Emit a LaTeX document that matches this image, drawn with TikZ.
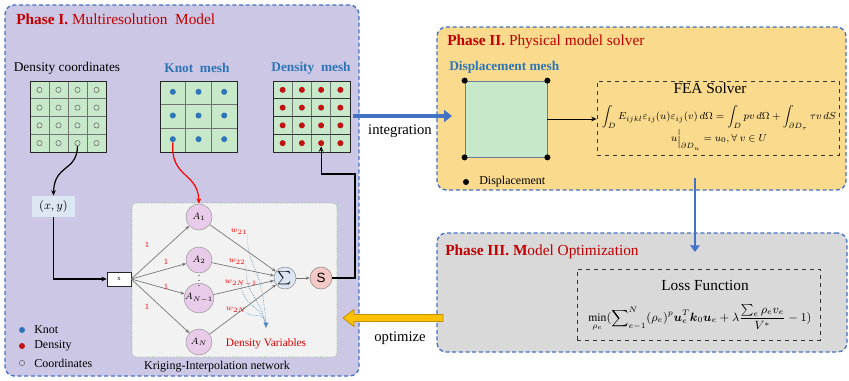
\documentclass[tikz,border=0pt]{standalone}
\usepackage{amsmath, amssymb}
\usepackage{fontspec}
\setmainfont{Liberation Serif}
\setsansfont{Liberation Sans}
\usetikzlibrary{calc,arrows.meta,positioning,fit}

\definecolor{phaseone}{RGB}{203,199,229}
\definecolor{phasetwo}{RGB}{250,219,142}
\definecolor{phasethree}{RGB}{217,217,217}
\definecolor{frameblue}{RGB}{68,114,196}
\definecolor{titlered}{RGB}{192,0,0}
\definecolor{meshgreen}{RGB}{200,232,202}
\definecolor{knotblue}{RGB}{46,117,182}
\definecolor{densred}{RGB}{192,20,20}
\definecolor{netgray}{RGB}{242,242,242}
\definecolor{neuronpink}{RGB}{232,203,232}
\definecolor{sumblue}{RGB}{220,229,245}
\definecolor{outpink}{RGB}{244,200,196}
\definecolor{xyblue}{RGB}{221,231,243}
\definecolor{optgold}{RGB}{255,192,0}
\definecolor{optedge}{RGB}{191,144,0}

\tikzset{
  phasebox/.style={draw=frameblue, line width=1pt, dash pattern=on 3pt off 2pt, rounded corners=7pt, inner sep=0pt},
  phasetitle/.style={anchor=west, text=titlered, font=\fontsize{11.5}{13}\selectfont, inner sep=0pt},
  meshlabel/.style={font=\fontsize{10}{12}\selectfont, inner sep=0pt},
  meshline/.style={draw=black!55, line width=0.4pt},
  meshborder/.style={draw=black!85, line width=0.7pt},
  coorddot/.style={circle, draw=black!60, line width=0.4pt, inner sep=0pt, minimum size=4pt},
  knotdot/.style={circle, fill=knotblue, inner sep=0pt, minimum size=4.5pt},
  densdot/.style={circle, fill=densred, inner sep=0pt, minimum size=4.5pt},
  dispdot/.style={circle, fill=black, inner sep=0pt, minimum size=4.5pt},
  neuron/.style={circle, draw=black!40, fill=neuronpink, minimum size=19.5pt, inner sep=0pt, font=\scriptsize},
  netedge/.style={draw=black!55, line width=0.5pt, -{Stealth[length=3pt,width=2.5pt]}},
  weightlabel/.style={text=red, font=\fontsize{6}{7}\selectfont, inner sep=0pt},
  dvlink/.style={draw=knotblue!85, densely dotted, line width=0.5pt},
  flowarrow/.style={draw=frameblue, line width=3pt, -{Triangle[length=6pt,width=9pt]}},
  flowlabel/.style={font=\fontsize{11}{13}\selectfont, inner sep=0pt},
  dashbox/.style={draw=black!80, dashed, line width=0.6pt, inner sep=0pt},
  legendtext/.style={anchor=west, font=\fontsize{9}{11}\selectfont, inner sep=0pt},
}

\begin{document}
\begin{tikzpicture}[x=0.75pt, y=-0.75pt]
\useasboundingbox (0,0) rectangle (849,380);

% phase frames
\node[phasebox, fill=phaseone, fit={(5,5) (359,376)}] (phaseI) {};
\node[phasebox, fill=phasetwo, fit={(437,27) (846,190)}] (phaseII) {};
\node[phasebox, fill=phasethree, fit={(437,233) (847,352)}] (phaseIII) {};

\node[phasetitle] (titleI) at (16,19) {\textbf{Phase I.} Multiresolution\ \ Model};
\node[phasetitle] (titleII) at (447,42) {\textbf{Phase II.} Physical\ model\ solver};
\node[phasetitle] (titleIII) at (445,252) {\textbf{Phase III. M}odel Optimization};

% ---- Phase I: meshes
\node[meshlabel] (coordlabel) at (67,68) {Density\ coordinates};
\node[meshlabel, text=knotblue, font=\fontsize{10}{12}\selectfont\bfseries] (knotlabel) at (197,68) {Knot\ \ mesh};
\node[meshlabel, text=knotblue, font=\fontsize{10}{12}\selectfont\bfseries] (denslabel) at (311,68) {Density\ \ mesh};

\fill[meshgreen] (30,81) rectangle (106,152);
\foreach \i in {1,2,3} {
  \draw[meshline] ({30+19*\i},81) -- ({30+19*\i},152);
  \draw[meshline] (30,{81+17.75*\i}) -- (106,{81+17.75*\i});
}
\draw[meshborder] (30,81) rectangle (106,152);
\foreach \i in {1,...,4}
  \foreach \j in {1,...,4}
    \node[coorddot] (c-\i-\j) at ({30+19*(\i-0.5)},{81+17.75*(\j-0.5)}) {};

\fill[meshgreen] (160,81) rectangle (237,152);
\foreach \i in {1,2} {
  \draw[meshline] ({160+25.67*\i},81) -- ({160+25.67*\i},152);
  \draw[meshline] (160,{81+23.67*\i}) -- (237,{81+23.67*\i});
}
\draw[meshborder] (160,81) rectangle (237,152);
\foreach \i in {1,2,3}
  \foreach \j in {1,2,3}
    \node[knotdot] (k-\i-\j) at ({160+25.67*(\i-0.5)},{80+23.67*(\j-0.5)}) {};

\fill[meshgreen] (273,81) rectangle (350,152);
\foreach \i in {1,2,3} {
  \draw[meshline] ({273+19.25*\i},81) -- ({273+19.25*\i},152);
  \draw[meshline, draw=black!80] (273,{81+17.75*\i}) -- (350,{81+17.75*\i});
}
\draw[meshborder] (273,81) rectangle (350,152);
\foreach \i in {1,...,4}
  \foreach \j in {1,...,4}
    \node[densdot] (d-\i-\j) at ({273+19.25*(\i-0.5)},{81+17.75*(\j-0.5)}) {};

% ---- Phase I: network
\node[fill=xyblue, minimum width=32pt, minimum height=16pt, inner sep=0pt, font=\small] (xy) at (53.5,206.5) {$(x,y)$};
\node[draw=black!85, fill=white, minimum width=18pt, minimum height=10.5pt, inner sep=0pt, font=\tiny] (xin) at (119,279) {x};

\node[draw=green!45!black!60, densely dotted, fill=netgray, rounded corners=3pt, inner sep=0pt, fit={(132,203) (337,357)}] (net) {};
\node[font=\fontsize{9}{11}\selectfont, inner sep=0pt] (netlabel) at (217,367) {Kriging-Interpolation network};

\node[neuron] (a1) at (199,217) {$A_1$};
\node[neuron] (a2) at (199,260) {$A_2$};
\node[neuron] (an1) at (199,298) {$A_{N-1}$};
\node[neuron] (an) at (199,342) {$A_N$};
\node[inner sep=0pt, font=\scriptsize] (vdots) at (199,277) {$\vdots$};
\node[circle, draw=black!45, fill=sumblue, minimum size=16.5pt, inner sep=0pt] (sum) at (285,278) {$\sum$};
\node[circle, draw=black!45, fill=outpink, minimum size=16.5pt, inner sep=0pt, font=\sffamily] (out) at (321,278) {S};

\foreach \n in {a1,a2,an1,an} {
  \draw[netedge] (xin.east) -- (\n);
  \draw[netedge] (\n) -- (sum);
}
\draw[netedge] (sum) -- (out);

\foreach \p [count=\k] in {{(147,245)},{(166,262)},{(166,287)},{(147,307)}}
  \node[weightlabel] (one\k) at \p {$1$};
\node[weightlabel] (w21) at (239,232) {$w_{21}$};
\node[weightlabel] (w22) at (237,262) {$w_{22}$};
\node[weightlabel] (w2n1) at (241,283) {$w_{2N-1}$};
\node[weightlabel] (w2n) at (236,310) {$w_{2N}$};

\coordinate (dv) at (266,328);
\draw[dvlink] (w21.south east) .. controls (246,268) and (263,262) .. (dv);
\draw[dvlink] (w22.south east) .. controls (246,300) and (260,292) .. (dv);
\draw[dvlink] (w2n1.south) .. controls (247,312) and (262,302) .. (dv);
\draw[dvlink, -{Latex[length=4pt,width=4pt]}] (w2n.south east) .. controls (252,318) and (266,312) .. (dv);
\node[text=red!85!black, font=\fontsize{8.5}{10}\selectfont, inner sep=0pt] (dvlabel) at (266,344) {Density Variables};

% ---- Phase I: links
\draw[black, line width=0.9pt, -{Stealth[length=4pt,width=3.5pt]}] (c-3-4.south) .. controls (77,172) and (54,164) .. (xy.north);
\draw[red, line width=0.9pt, -{Stealth[length=4pt,width=3.5pt]}] (k-1-3.south) .. controls (170,178) and (198,172) .. (a1.north);
\draw[black, line width=0.9pt, -{Stealth[length=4pt,width=3.5pt]}] (xy.south) |- (xin.west);
\draw[black, line width=0.9pt, -{Stealth[length=4pt,width=3.5pt]}] (out.east) -| (355,174) -| (d-3-4.south);

% ---- Phase I: legend
\node[knotdot] (legknot) at (22,330) {};
\node[legendtext] (legknottext) at (34,330) {Knot};
\node[densdot] (legdens) at (22,346) {};
\node[legendtext] (legdenstext) at (34,346) {Density};
\node[coorddot] (legcoord) at (22,363) {};
\node[legendtext] (legcoordtext) at (34,363) {Coordinates};

% ---- Phase II
\node[meshlabel, anchor=west, text=knotblue, font=\fontsize{10}{12}\selectfont\bfseries] (displabel) at (449,67) {Displacement mesh};
\node[draw=frameblue!60!black!70, fill=meshgreen, line width=0.6pt, minimum width=61.5pt, minimum height=57pt, inner sep=0pt] (dmesh) at (506,119) {};
\foreach \c/\n in {north west/nw, north east/ne, south west/sw, south east/se}
  \node[dispdot] (disp-\n) at (dmesh.\c) {};
\node[dashbox, fit={(597,81) (839,155)}] (fea) {};
\draw[black, line width=0.7pt, -{Stealth[length=4pt,width=3.5pt]}] (dmesh.east) -- (dmesh.east -| fea.west);
\node[font=\fontsize{11.5}{13}\selectfont, inner sep=0pt] (featitle) at (710,88) {FEA Solver};
\node[font=\fontsize{8}{10}\selectfont, inner sep=0pt] (feaeq) at (719,118)
  {\scalebox{0.95}{$\displaystyle\int_D E_{ijkl}\varepsilon_{ij}(u)\varepsilon_{ij}(v)\,d\Omega=\int_D pv\,d\Omega+\int_{\partial D_\tau}\tau v\,dS$}};
\node[font=\fontsize{8}{10}\selectfont, inner sep=0pt] (feabc) at (719,140)
  {\scalebox{0.95}{$\displaystyle u\Big|_{\partial D_u}=u_0,\forall\ v\in U$}};
\node[dispdot] (legdisp) at (466,182) {};
\node[legendtext] (legdisptext) at (479,182) {Displacement};

% ---- Phase III
\node[dashbox, fit={(577,269) (820,340)}] (loss) {};
\node[font=\fontsize{11.5}{13}\selectfont, inner sep=0pt] (losstitle) at (705,285) {Loss Function};
\node[font=\fontsize{8.7}{10}\selectfont, inner sep=0pt] (losseq) at (700,318)
  {$\displaystyle\min_{\rho_e}(\sum\nolimits_{e-1}^{N}(\rho_e)^p\boldsymbol{u}_e^T\boldsymbol{k}_0\boldsymbol{u}_e+\lambda\frac{\sum_e\rho_e v_e}{V^*}-1)$};

% ---- phase links
\coordinate (intS) at (353,116);
\coordinate (intE) at (452,116);
\draw[flowarrow] (intS) -- (intE);
\node[flowlabel] (intlabel) at (400,131) {integration};

\coordinate (solS) at (695,178);
\coordinate (solE) at (695,252);
\draw[flowarrow, line width=2.2pt, -{Triangle[length=5pt,width=7pt]}] (solS) -- (solE);

\coordinate (optS) at (443,318);
\coordinate (optE) at (343,318);
\draw[draw=optedge, fill=optgold, line width=0.6pt] ($(optS)+(0,-3.5)$) -- ($(optE)+(11,-3.5)$) -- ($(optE)+(11,-8.5)$) -- (optE)
  -- ($(optE)+(11,8.5)$) -- ($(optE)+(11,3.5)$) -- ($(optS)+(0,3.5)$) -- cycle;
\node[flowlabel] (optlabel) at (400,338) {optimize};
\end{tikzpicture}
\end{document}
